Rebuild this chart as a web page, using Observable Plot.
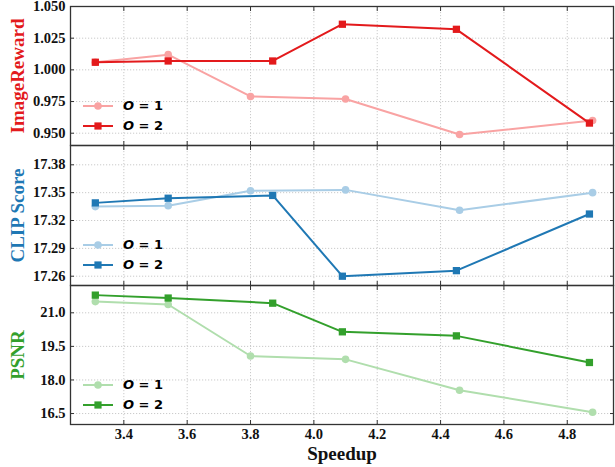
<!DOCTYPE html>
<html><head><meta charset="utf-8">
<script src="https://cdn.jsdelivr.net/npm/d3@7"></script>
<script src="https://cdn.jsdelivr.net/npm/@observablehq/plot@0.6"></script>
<style>
body{margin:0;background:#fff;}
#wrap{position:relative;width:615px;height:467px;overflow:hidden;}
.panel{position:absolute;left:0;}
.legend{position:absolute;font-family:"DejaVu Sans";font-weight:bold;font-size:13px;line-height:20px;}
.legend div{display:flex;align-items:center;height:20px;}
.legend svg{margin-right:10px;}
</style></head>
<body><div id="wrap"></div>
<script>
// ---- data ----
const speedup1 = [3.31, 3.54, 3.80, 4.10, 4.46, 4.88];
const speedup2 = [3.31, 3.54, 3.87, 4.09, 4.45, 4.87];
const imageReward1 = [1.006, 1.012, 0.979, 0.977, 0.949, 0.960];
const imageReward2 = [1.006, 1.007, 1.007, 1.036, 1.032, 0.958];
const clip1 = [17.335, 17.336, 17.352, 17.353, 17.331, 17.350];
const clip2 = [17.339, 17.344, 17.347, 17.260, 17.266, 17.327];
const psnr1 = [21.50, 21.37, 19.07, 18.92, 17.54, 16.56];
const psnr2 = [21.79, 21.66, 21.43, 20.15, 19.97, 18.78];
const xTicks = [3.4, 3.6, 3.8, 4.0, 4.2, 4.4, 4.6, 4.8];
const irTicks = [0.950, 0.975, 1.000, 1.025, 1.050];
const clipTicks = [17.26, 17.29, 17.32, 17.35, 17.38];
const psnrTicks = [16.5, 18.0, 19.5, 21.0];
const seriesLabels = ["O = 1", "O = 2"];
const xLabel = "Speedup";

const W = 615, ML = 70, MR = 2;
const xDomain = [3.2316, 4.946];
const frameColor = "#333";
const gridStyle = {stroke: "#bdbdbd", strokeOpacity: 1, strokeWidth: 0.8, strokeDasharray: "1.2,1.8"};

function panel({top, height, mt, mb, yDomain, yTicks, yFmt, v1, v2, c1, c2, label, labelColor, bottom}) {
  const d1 = speedup1.map((x, i) => ({x, y: v1[i]}));
  const d2 = speedup2.map((x, i) => ({x, y: v2[i]}));
  const chart = Plot.plot({
    width: W, height, marginLeft: ML, marginRight: MR, marginTop: mt, marginBottom: mb,
    style: {fontFamily: "Liberation Serif", fontSize: "14.5px", fontWeight: "bold", color: "#111", overflow: "visible", background: "transparent"},
    x: {domain: xDomain},
    y: {domain: yDomain},
    marks: [
      Plot.gridX(xTicks, gridStyle),
      Plot.gridY(yTicks, gridStyle),
      Plot.line(d1, {x: "x", y: "y", stroke: c1, strokeWidth: 2}),
      Plot.dot(d1, {x: "x", y: "y", fill: c1, r: 3.8, symbol: "circle"}),
      Plot.line(d2, {x: "x", y: "y", stroke: c2, strokeWidth: 2}),
      Plot.dot(d2, {x: "x", y: "y", fill: c2, r: 4.1, symbol: "square"}),
      Plot.axisX(xTicks, {anchor: "bottom", tickSize: -4, tickPadding: 8, stroke: frameColor, strokeWidth: 1, label: null,
        tickFormat: bottom ? (d => d.toFixed(1)) : (() => "")}),
      Plot.axisX(xTicks, {anchor: "top", tickSize: -4, label: null, stroke: frameColor, tickFormat: () => ""}),
      Plot.axisY(yTicks, {anchor: "left", tickSize: -4, tickPadding: 9, label: null, stroke: frameColor, tickFormat: yFmt}),
      Plot.axisY(yTicks, {anchor: "right", tickSize: -4, label: null, stroke: frameColor, tickFormat: () => ""}),
      Plot.frame({stroke: frameColor, strokeWidth: 1.3}),
      Plot.text([label], {frameAnchor: "left", text: d => d, rotate: -90, dx: -53, textAnchor: "middle", lineAnchor: "middle", fill: labelColor, fontSize: 19, fontWeight: "bold"}),
      ...(bottom ? [Plot.text([xLabel], {frameAnchor: "bottom", text: d => d, dy: 29, textAnchor: "middle", lineAnchor: "middle", fontSize: 19, fontWeight: "bold", fill: "#111"})] : [])
    ]
  });
  chart.classList.add("panel");
  chart.style.top = top + "px";
  document.getElementById("wrap").appendChild(chart);

  const lg = document.createElement("div");
  lg.className = "legend";
  lg.style.left = "83px";
  lg.style.top = (top + mt + 90) + "px";
  const mk = (c, sq) => `<svg width="30" height="12"><line x1="0" x2="30" y1="6" y2="6" stroke="${c}" stroke-width="2"/>${sq ? `<rect x="11.4" y="2.4" width="7.2" height="7.2" fill="${c}"/>` : `<circle cx="15" cy="6" r="3.8" fill="${c}"/>`}</svg>`;
  const lab = s => `<span><i>${s[0]}</i>${s.slice(1)}</span>`;
  lg.innerHTML = `<div>${mk(c1, false)}${lab(seriesLabels[0])}</div><div>${mk(c2, true)}${lab(seriesLabels[1])}</div>`;
  document.getElementById("wrap").appendChild(lg);
}

panel({top: 0, height: 146, mt: 6, mb: 1, yDomain: [0.9403, 1.050], yTicks: irTicks, yFmt: d => d.toFixed(3),
  v1: imageReward1, v2: imageReward2, c1: "#f9a3a3", c2: "#e31a1c", label: "ImageReward", labelColor: "#e31a1c"});
panel({top: 145, height: 141, mt: 0, mb: 1, yDomain: [17.250, 17.4008], yTicks: clipTicks, yFmt: d => d.toFixed(2),
  v1: clip1, v2: clip2, c1: "#a9cde6", c2: "#1f78b4", label: "CLIP Score", labelColor: "#1f78b4"});
panel({top: 285, height: 182, mt: 0, mb: 43, yDomain: [16.01, 22.22], yTicks: psnrTicks, yFmt: d => d.toFixed(1),
  v1: psnr1, v2: psnr2, c1: "#b0dead", c2: "#33a02c", label: "PSNR", labelColor: "#33a02c", bottom: true});
</script></body></html>
